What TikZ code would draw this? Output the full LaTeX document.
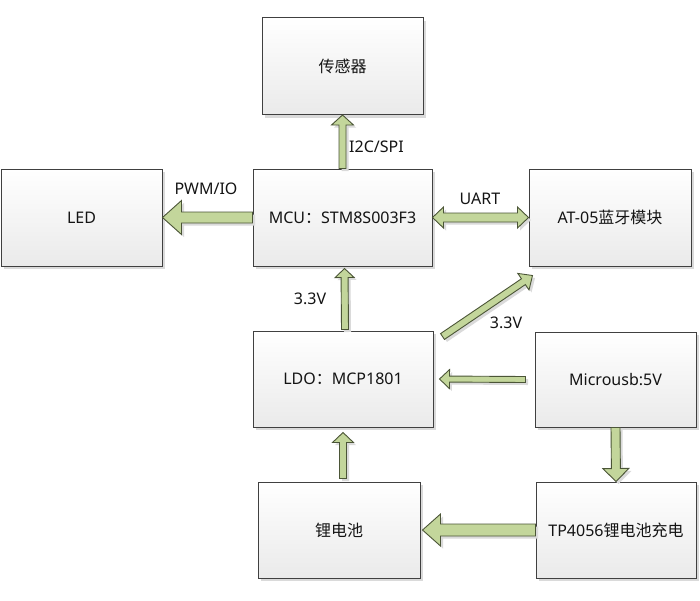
\documentclass[tikz,border=0pt]{standalone}
\usepackage{fontspec}
\setmainfont{Noto Sans}
\newfontfamily\cjk{Noto Sans CJK SC}
\usetikzlibrary{calc,shadows}
\definecolor{arrfill}{RGB}{195,214,155}
\definecolor{arrline}{RGB}{75,85,55}
\definecolor{boxline}{RGB}{64,64,64}
\definecolor{boxbot}{RGB}{234,234,234}
\definecolor{shad}{RGB}{218,218,218}
\definecolor{txt}{RGB}{20,20,20}
\tikzset{
  blk/.style={draw=boxline, line width=1pt, top color=white, bottom color=boxbot,
    drop shadow={shadow xshift=3pt,shadow yshift=-3pt,fill=shad,opacity=1},
    font=\fontsize{16}{19}\selectfont, text=txt, inner sep=0pt},
  lbl/.style={font=\fontsize{16}{19}\selectfont, text=txt, inner sep=0pt},
  arrbody/.style={draw=arrline, fill=arrfill, line width=0.9pt, line join=miter},
  arrshad/.style={fill=shad, transform canvas={xshift=2.5pt,yshift=-2.5pt}}
}
% single block arrow: from, to, half shaft, half head, head length
\newcommand{\barrow}[5]{%
  \coordinate (ba-c) at ($(#2)!#5!(#1)$);
  \foreach \st in {arrshad,arrbody}{%
  \path[\st] ($(#1)!#3!90:(#2)$) -- ($(ba-c)!#3!90:(#2)$) -- ($(ba-c)!#4!90:(#2)$) -- (#2)
    -- ($(ba-c)!#4!-90:(#2)$) -- ($(ba-c)!#3!-90:(#2)$) -- ($(#1)!#3!-90:(#2)$) -- cycle;}
}
% double block arrow
\newcommand{\dbarrow}[5]{%
  \coordinate (ba-c) at ($(#1)!#5!(#2)$);
  \coordinate (ba-d) at ($(#2)!#5!(#1)$);
  \foreach \st in {arrshad,arrbody}{%
  \path[\st] (#1) -- ($(ba-c)!#4!90:(#2)$) -- ($(ba-c)!#3!90:(#2)$) -- ($(ba-d)!#3!90:(#2)$)
    -- ($(ba-d)!#4!90:(#2)$) -- (#2) -- ($(ba-d)!#4!-90:(#2)$) -- ($(ba-d)!#3!-90:(#2)$)
    -- ($(ba-c)!#3!-90:(#2)$) -- ($(ba-c)!#4!-90:(#2)$) -- cycle;}
}
\begin{document}
\begin{tikzpicture}[x=1pt,y=-1pt]
\useasboundingbox[fill=white] (0,0) rectangle (700,600);
% boxes
\node[blk, minimum width=161pt, minimum height=97pt] (sensor) at (342.5,66) {\cjk 传感器};
\node[blk, minimum width=179pt, minimum height=97pt] (mcu) at (342.5,217.5) {MCU{\cjk ：}STM8S003F3};
\node[blk, minimum width=161pt, minimum height=97pt] (led) at (81.5,217.5) {LED};
\node[blk, minimum width=162pt, minimum height=97pt] (bt) at (610,217.5) {AT-05{\cjk 蓝牙模块}};
\node[blk, minimum width=180pt, minimum height=96pt] (ldo) at (343,379) {LDO{\cjk ：}MCP1801};
\node[blk, minimum width=161pt, minimum height=95pt] (usb) at (615.5,379.5) {Microusb:5V};
\node[blk, minimum width=162pt, minimum height=96pt] (bat) at (339,530) {\cjk 锂电池};
\node[blk, minimum width=160pt, minimum height=96pt] (tp) at (616,530) {TP4056{\cjk 锂电池充电}};
% arrow endpoints
\coordinate (a1) at (mcu.north);
\coordinate (b1) at (sensor.south);
\coordinate (a2) at (mcu.west);
\coordinate (b2) at (led.east);
\coordinate (a3) at (mcu.east);
\coordinate (b3) at (bt.west);
\coordinate (a4) at ($(ldo.north)+(2,-1)$);
\coordinate (b4) at ($(mcu.south)+(2,2)$);
\coordinate (a5) at ($(ldo.north east)+(9,6)$);
\coordinate (b5) at ($(bt.south west)+(4,9)$);
\coordinate (a6) at ($(usb.west)+(-9,0)$);
\coordinate (b6) at ($(ldo.east)+(6,0)$);
\coordinate (a7) at (usb.south);
\coordinate (b7) at (tp.north);
\coordinate (a8) at ($(bat.north)+(4,-3)$);
\coordinate (b8) at ($(ldo.south)+(0,5)$);
\coordinate (a9) at (tp.west);
\coordinate (b9) at ($(bat.east)+(2,0)$);
% arrows
\barrow{a1}{b1}{3.5pt}{11pt}{10pt}
\barrow{a2}{b2}{5.5pt}{17pt}{19pt}
\dbarrow{a3}{b3}{4.5pt}{10.5pt}{11pt}
\barrow{a4}{b4}{3.5pt}{9.5pt}{9pt}
\barrow{a5}{b5}{3.5pt}{10pt}{11pt}
\barrow{a6}{b6}{3pt}{9.5pt}{10pt}
\barrow{a7}{b7}{4.5pt}{13pt}{13pt}
\barrow{a8}{b8}{3.5pt}{10.5pt}{10pt}
\barrow{a9}{b9}{6pt}{16pt}{18pt}
% labels
\node[lbl, anchor=west] (l1) at (349,147) {I2C/SPI};
\node[lbl] (l2) at (206,189) {PWM/IO};
\node[lbl] (l3) at (480,199) {UART};
\node[lbl] (l4) at (310,299) {3.3V};
\node[lbl] (l5) at (506,323) {3.3V};
\end{tikzpicture}
\end{document}
